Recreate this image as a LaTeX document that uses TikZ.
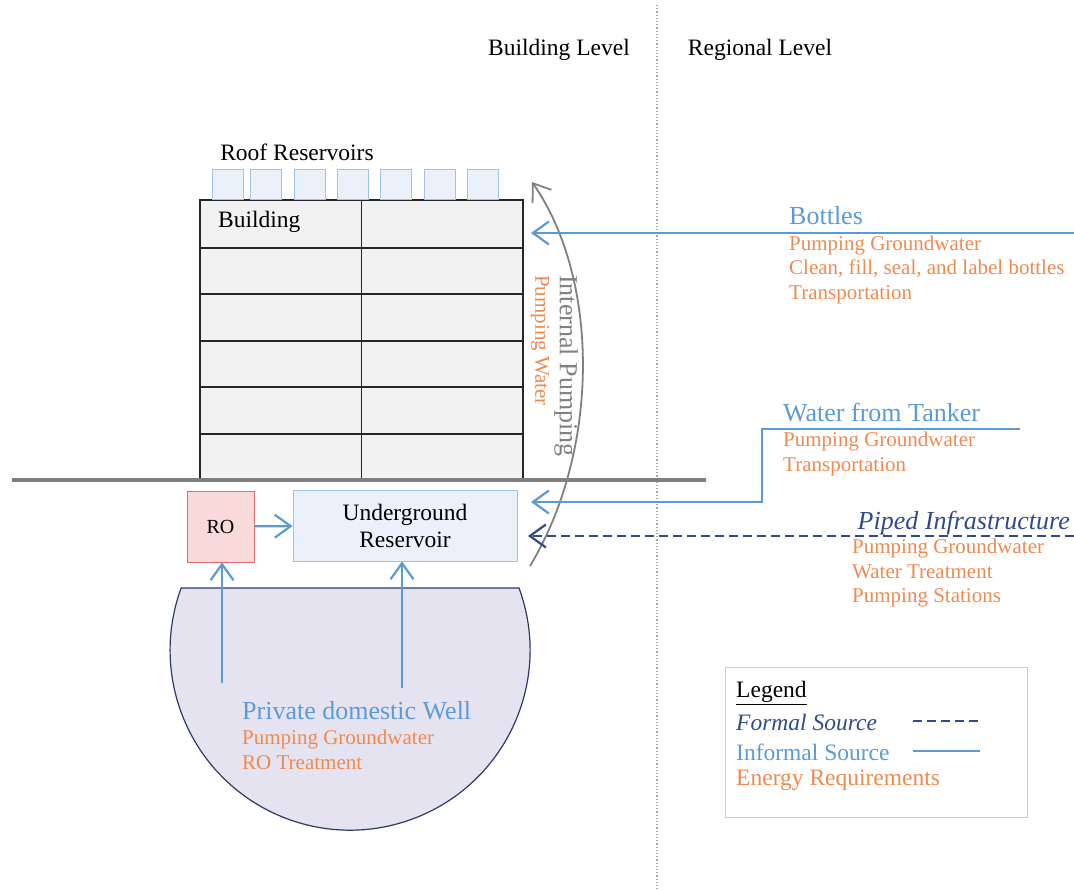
\documentclass[tikz,border=0pt]{standalone}
\usepackage{fontspec}
\setmainfont{Liberation Serif}
\usetikzlibrary{positioning,arrows.meta}

\definecolor{srcblue}{HTML}{5B9BD5}
\definecolor{needor}{HTML}{EE8A50}
\definecolor{formal}{HTML}{2F4B8C}
\definecolor{tankfill}{HTML}{EAF1FA}
\definecolor{tankline}{HTML}{9DC3E6}
\definecolor{rofill}{HTML}{F9DADA}
\definecolor{roline}{HTML}{E06C6C}
\definecolor{wellfill}{HTML}{E6E3F1}
\definecolor{wellline}{HTML}{2B3A67}

\begin{document}
\begin{tikzpicture}[x=1pt, y=-1pt, >={Straight Barb[length=16pt,width=23pt]},
    lbl/.style={inner sep=0pt, font=\fontsize{23.5}{27}\selectfont},
    src/.style={inner sep=0pt, text=srcblue, font=\fontsize{26}{30}\selectfont},
    need/.style={inner sep=0pt, text=needor, align=left, font=\fontsize{21}{24.5}\selectfont},
    flow/.style={srcblue, line width=2.2pt},
    roofbox/.style={draw=tankline, fill=tankfill, line width=0.8pt, minimum width=31pt, minimum height=30pt, anchor=south west}]
    \useasboundingbox (0,0) rectangle (1074,890);

    % levels
    \draw[gray!70, dotted, line width=1.2pt] (657,5) -- (657,890);
    \node[lbl] (blevel) at (559,50) {Building Level};
    \node[lbl] (rlevel) at (760,50) {Regional Level};

    % building and roof tanks
    \node[draw=black!85, fill=gray!10, line width=1.8pt, minimum width=323pt, minimum height=280pt] (bldg) at (361.5,340) {};
    \foreach \y in {248,294,341,387,434}
        \draw[black!85, line width=1.6pt] (bldg.west |- 0,\y) -- (bldg.east |- 0,\y);
    \draw[black!85, line width=1.6pt] (bldg.north) -- (bldg.south);
    \node[lbl, anchor=west] (bname) at (218,222) {Building};
    \foreach \x [count=\i] in {212,250,294,337,380,424,467}
        \node[roofbox] (roof\i) at (\x,200) {};
    \node[lbl] (rooflbl) at (297,152) {Roof Reservoirs};
    \draw[gray, line width=3.5pt] (12,480) -- (706,480);

    % underground
    \node[draw=roline, fill=rofill, line width=0.8pt, minimum width=67pt, minimum height=71pt] (ro) at (220.5,526.5) {};
    \node[inner sep=0pt, font=\fontsize{20}{24}\selectfont] at (ro) {RO};
    \node[draw=tankline, fill=tankfill, line width=0.8pt, minimum width=224pt, minimum height=71pt, align=center, font=\fontsize{23.5}{27}\selectfont] (ures) at (405,525.5) {Underground\\Reservoir};
    \draw[flow,->] (ro) -- (ures);

    % well
    \draw[wellline, fill=wellfill, line width=1.2pt] (519,588) arc[start angle=-20.2, end angle=200.2, radius=180] -- cycle;
    \coordinate (well-a) at (222,683);
    \coordinate (well-b) at (402,688);
    \draw[flow,->] (well-a) -- (well-a |- ro.south);
    \draw[flow,->] (well-b) -- (well-b |- ures.south);
    \node[src, anchor=west] (well) at (242,711) {Private domestic Well};
    \node[need, anchor=north west] (well-e) at (242,730) {Pumping Groundwater\\RO Treatment};

    % internal pumping
    \coordinate (pump-lo) at (530,566);
    \coordinate (pump-hi) at (532,182);
    \draw[gray, line width=1.8pt, ->] (pump-lo) .. controls (600,450) and (600,280) .. (pump-hi);
    \node[inner sep=0pt, text=gray, rotate=-90, anchor=west, font=\fontsize{26}{30}\selectfont] (pump) at (566,275) {Internal Pumping};
    \node[need, rotate=-90, anchor=west] (pump-e) at (540,275) {Pumping Water};

    % bottles
    \coordinate (bottles-src) at (1074,233);
    \coordinate (bottles-in) at (531,233);
    \draw[flow,->] (bottles-src) -- (bottles-in);
    \node[src, anchor=west] (bottles) at (789,216) {Bottles};
    \node[need, anchor=north west] (bottles-e) at (789,235.5) {Pumping Groundwater\\Clean, fill, seal, and label bottles\\Transportation};

    % tanker
    \coordinate (tank-src) at (1020,429);
    \coordinate (tank-kink) at (762,502);
    \coordinate (tank-in) at (531,502);
    \draw[flow,->] (tank-src) -| (tank-kink) -- (tank-in);
    \node[src, anchor=west] (tanker) at (783,413) {Water from Tanker};
    \node[need, anchor=north west] (tanker-e) at (783,432) {Pumping Groundwater\\Transportation};

    % piped
    \coordinate (pipe-src) at (1074,536);
    \coordinate (pipe-in) at (528,536);
    \draw[formal, line width=2.2pt, dash pattern=on 9pt off 5pt, ->] (pipe-src) -- (pipe-in);
    \node[src, text=formal, anchor=east, font=\fontsize{26}{30}\selectfont\itshape] (piped) at (1070,523) {Piped Infrastructure};
    \node[need, anchor=north west] (piped-e) at (852,539) {Pumping Groundwater\\Water Treatment\\Pumping Stations};

    % legend
    \node[draw=gray!40, fill=white, line width=0.8pt, minimum width=302pt, minimum height=150pt] (legend) at (876,742) {};
    \node[lbl, anchor=west] (leg-title) at (736,693) {\underline{Legend}};
    \node[lbl, anchor=west, text=formal, font=\fontsize{23.5}{27}\selectfont\itshape] (leg-formal) at (736,722) {Formal Source};
    \node[lbl, anchor=west, text=srcblue] (leg-informal) at (736,752) {Informal Source};
    \node[lbl, anchor=west, text=needor] (leg-energy) at (736,780) {Energy Requirements};
    \coordinate (leg-fa) at (913,721);
    \coordinate (leg-fb) at (978,721);
    \coordinate (leg-ia) at (913,751);
    \coordinate (leg-ib) at (980,751);
    \draw[formal, line width=2.2pt, dash pattern=on 9pt off 5pt] (leg-fa) -- (leg-fb);
    \draw[flow] (leg-ia) -- (leg-ib);
\end{tikzpicture}
\end{document}
